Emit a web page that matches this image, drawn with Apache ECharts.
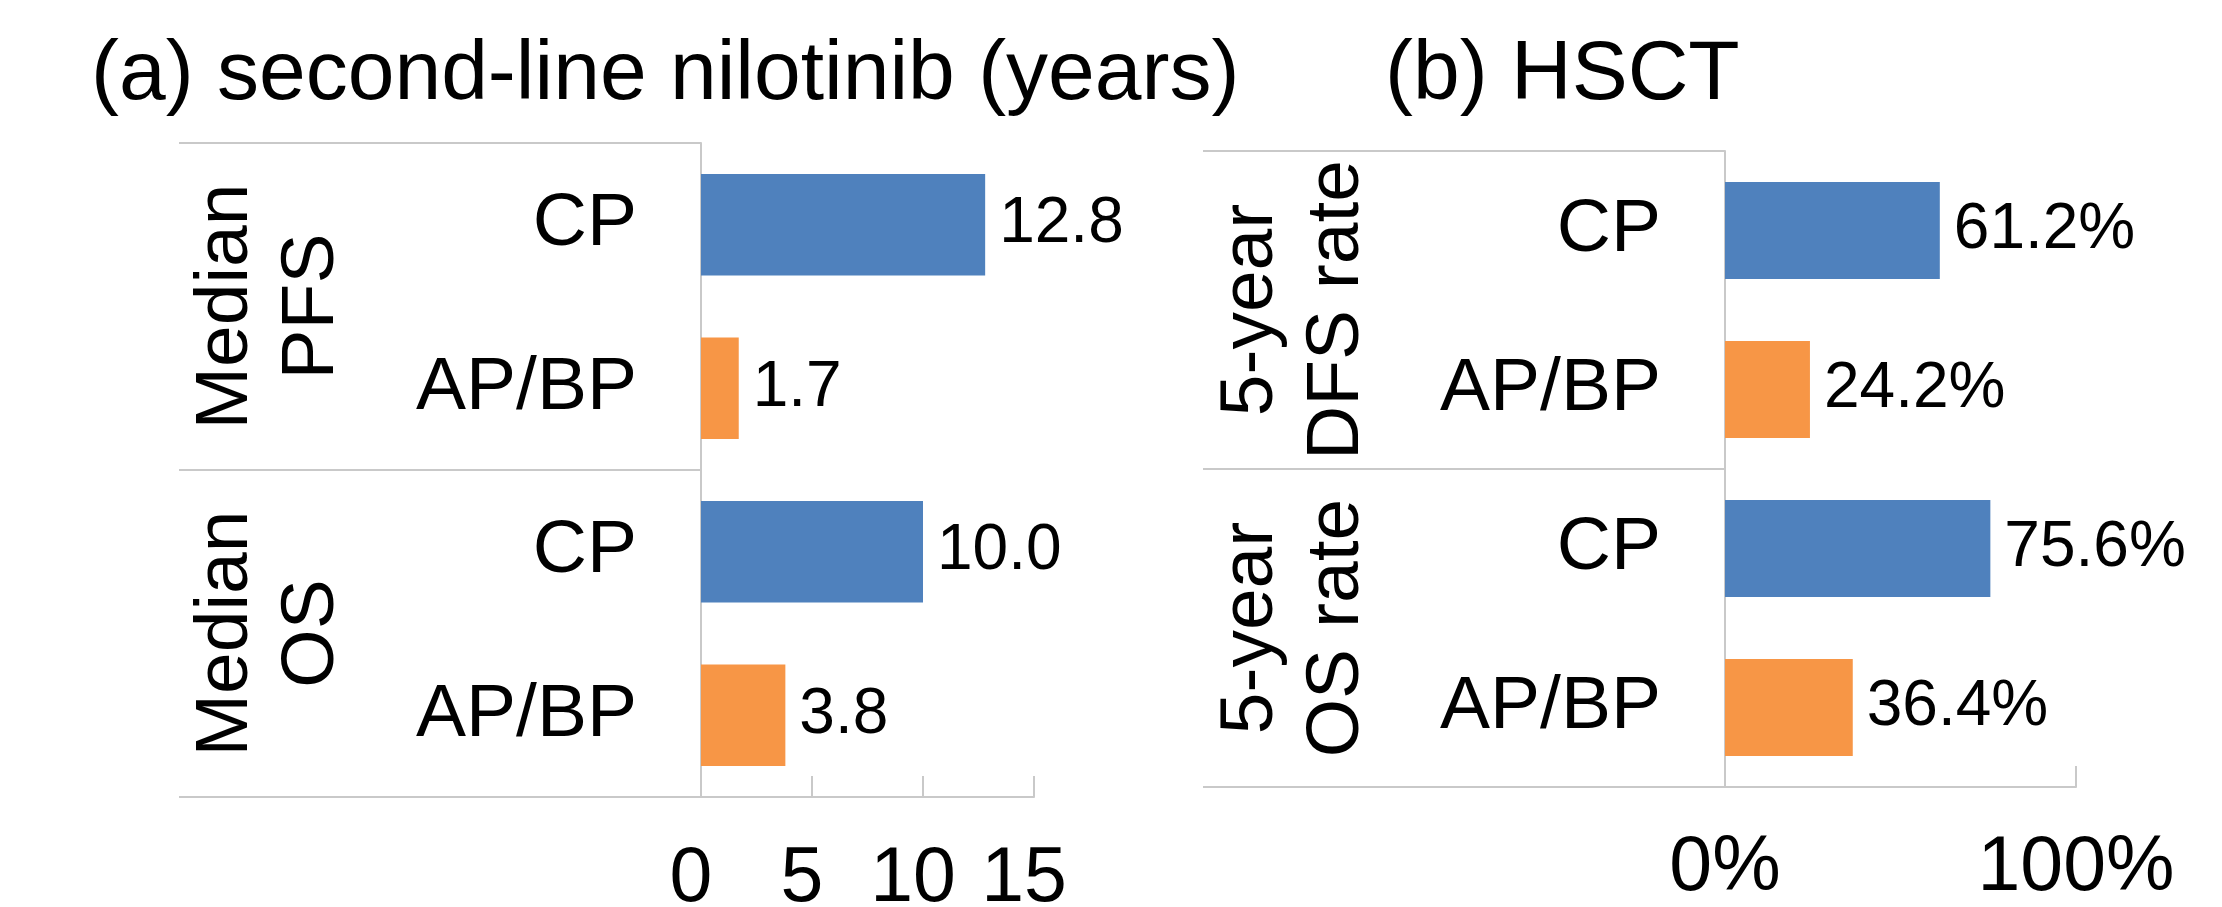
<!DOCTYPE html>
<html>
<head>
<meta charset="utf-8">
<script src="https://cdn.jsdelivr.net/npm/echarts@6/dist/echarts.min.js"></script>
<style>
html,body{margin:0;padding:0;background:#fff;}
#chart{width:2222px;height:907px;}
</style>
</head>
<body>
<div id="chart"></div>
<script>
// ---- data ----
const categories = ['CP', 'AP/BP', 'CP', 'AP/BP'];
const groupsA = ['Median\nPFS', 'Median\nOS'];
const groupsB = ['5-year\nDFS rate', '5-year\nOS rate'];
const valuesA = [12.8, 1.7, 10.0, 3.8];      // years
const valuesB = [61.2, 24.2, 75.6, 36.4];    // percent
const titleA = '(a) second-line nilotinib (years)';
const titleB = '(b) HSCT';
const colorCP = '#4F81BD';
const colorAB = '#F79646';

const FONT = '"Liberation Sans", Arial, sans-serif';
const LINE = '#C9C9C9';

const chart = echarts.init(document.getElementById('chart'));

function catAxis(gridIndex) {
  return {
    type: 'category', gridIndex: gridIndex, position: 'left', inverse: true,
    data: categories,
    axisLine: {show: true, lineStyle: {color: LINE, width: 2}},
    axisTick: {show: false},
    axisLabel: {interval: 0, margin: 64, fontSize: 75, color: '#000', fontFamily: FONT}
  };
}
function groupAxis(gridIndex, groups, margin) {
  return {
    type: 'category', gridIndex: gridIndex, position: 'left', inverse: true,
    data: groups,
    axisLine: {show: false},
    axisTick: {show: true, interval: 0, inside: false, length: 522, lineStyle: {color: LINE, width: 2}},
    axisLabel: {interval: 0, rotate: 90, margin: margin, fontSize: 75, lineHeight: 86,
                color: '#000', fontFamily: FONT}
  };
}
function barColor(p) { return p.name === 'CP' ? colorCP : colorAB; }

const option = {
  backgroundColor: '#fff',
  animation: false,
  title: [
    {text: titleA, left: 91, top: 34, padding: 0,
     textStyle: {fontSize: 84, fontWeight: 'normal', color: '#000', fontFamily: FONT}},
    {text: titleB, left: 1385, top: 34, padding: 0,
     textStyle: {fontSize: 84, fontWeight: 'normal', color: '#000', fontFamily: FONT}}
  ],
  grid: [
    {left: 701, right: 1188, top: 143, bottom: 110, containLabel: false, outerBoundsMode: 'none'},
    {left: 1725, right: 146, top: 151, bottom: 120, containLabel: false, outerBoundsMode: 'none'}
  ],
  xAxis: [
    {type: 'value', gridIndex: 0, min: 0, max: 15, interval: 5, position: 'bottom',
     axisLine: {show: true, lineStyle: {color: LINE, width: 2}},
     axisTick: {show: true, inside: true, length: 21, lineStyle: {color: LINE, width: 2}},
     splitLine: {show: false},
     axisLabel: {margin: 44, fontSize: 77, color: '#000', fontFamily: FONT, padding: [0, 20, 0, 0]}},
    {type: 'value', gridIndex: 1, min: 0, max: 100, interval: 100, position: 'bottom',
     axisLine: {show: true, lineStyle: {color: LINE, width: 2}},
     axisTick: {show: true, inside: true, length: 21, lineStyle: {color: LINE, width: 2}},
     splitLine: {show: false},
     axisLabel: {margin: 43, fontSize: 77, color: '#000', fontFamily: FONT, formatter: '{value}%'}}
  ],
  yAxis: [
    catAxis(0),
    groupAxis(0, groupsA, 346),
    catAxis(1),
    groupAxis(1, groupsB, 345)
  ],
  series: [
    {type: 'bar', xAxisIndex: 0, yAxisIndex: 0, data: valuesA, barCategoryGap: '38%',
     itemStyle: {color: barColor},
     label: {show: true, position: 'right', distance: 14, fontSize: 64, color: '#000', fontFamily: FONT,
             formatter: p => p.value.toFixed(1)}},
    {type: 'bar', xAxisIndex: 1, yAxisIndex: 2, data: valuesB, barCategoryGap: '39%',
     itemStyle: {color: barColor},
     label: {show: true, position: 'right', distance: 14, fontSize: 64, color: '#000', fontFamily: FONT,
             formatter: p => p.value.toFixed(1) + '%'}}
  ]
};
chart.setOption(option);
</script>
</body>
</html>
